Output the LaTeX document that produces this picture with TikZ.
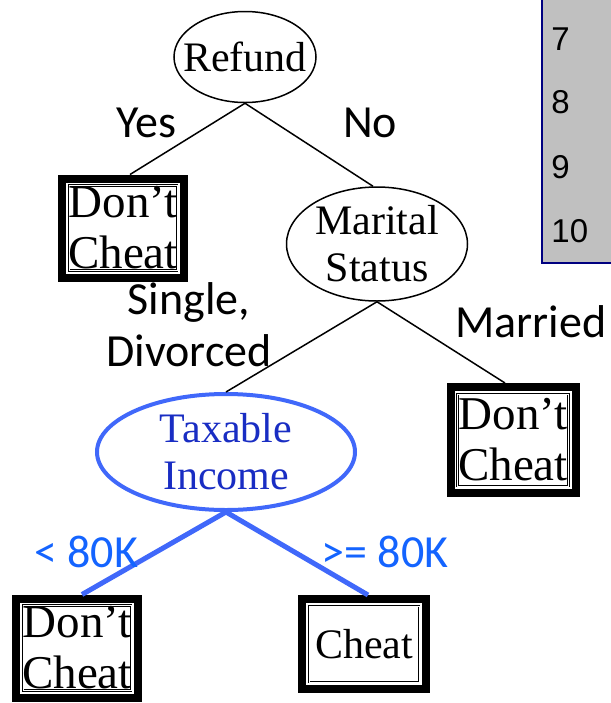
\documentclass[tikz,border=0pt]{standalone}
\usepackage{fontspec}
\setmainfont{Liberation Serif}
\newfontfamily\branchfont{Carlito}
\newfontfamily\rowfont{Liberation Sans}
\usepackage{xcolor}
\usepackage{tikz}
\usetikzlibrary{shapes}
\definecolor{splitblue}{RGB}{64,104,250}
\definecolor{splittext}{RGB}{25,45,195}
\definecolor{branchblue}{RGB}{20,100,255}
\definecolor{rownavy}{RGB}{0,0,128}
\definecolor{rowgrey}{RGB}{192,192,192}
\tikzset{
  TestNode/.style={
    ellipse, draw=black, line width=0.75pt,
    inner xsep=-20pt, inner ysep=-20pt,
    align=center, font=\fontsize{21}{23.5}\selectfont,
  },
  LeafNode/.style={
    rectangle, draw=black, line width=4pt, inner sep=0pt,
    align=center, font=\fontsize{23.5}{25.5}\selectfont,
    path picture={
      \draw[line width=0.45pt, double, double distance=0.5pt]
        ([shift={(3.5pt,-3.5pt)}]path picture bounding box.north west)
        rectangle ([shift={(-3.5pt,3.5pt)}]path picture bounding box.south east);
    },
  },
  Branch/.style={font=\branchfont\fontsize{23}{26}\selectfont, inner sep=0pt},
  Edge/.style={line width=0.75pt},
  SplitEdge/.style={line width=2.5pt, draw=splitblue},
}

\begin{document}
\begin{tikzpicture}[x=0.5pt, y=-0.5pt]
\useasboundingbox (0,0) rectangle (611,703);
\fill[rowgrey] (543,0) rectangle (611,263);
\draw[rownavy, line width=1.1pt] (542,0) -- (542,263) -- (611,263);
\foreach \n/\y in {7/50, 8/113, 9/178, 10/242}
  \node[font=\rowfont\fontsize{16.5}{18}\selectfont, anchor=base west, inner sep=0pt] (row\n) at (551,\y) {\n};

\node[TestNode, minimum width=71pt, minimum height=45.5pt] (Refund) at (245,57) {Refund};
\node[LeafNode, minimum width=61pt, minimum height=49.5pt] (RefundYes) at (123,228) {Don’t\\Cheat};
\node[TestNode, minimum width=90.5pt, minimum height=57pt] (Marital) at (377,244) {Marital\\Status};
\node[LeafNode, minimum width=62.5pt, minimum height=53pt] (MarMarried) at (513,440) {Don’t\\Cheat};
\node[TestNode, draw=splitblue, line width=2pt, text=splittext, minimum width=129pt, minimum height=58pt] (Income) at (226,452) {Taxable\\Income};
\node[LeafNode, minimum width=61pt, minimum height=49.5pt] (IncLow) at (77,648) {Don’t\\Cheat};
\node[LeafNode, font=\fontsize{21}{23.5}\selectfont, minimum width=62pt, minimum height=45pt] (IncHigh) at (364,644) {Cheat};

\draw[Edge] (Refund.south) -- ([xshift=3.5pt]RefundYes.north);
\draw[Edge] (Refund.south) -- ([xshift=-2pt]Marital.north);
\draw[Edge] (Marital.south) -- (Income.north);
\draw[Edge] (Marital.south) -- ([xshift=-4pt]MarMarried.north);
\draw[SplitEdge] (Income.south) -- ([xshift=2.5pt]IncLow.north);
\draw[SplitEdge] (Income.south) -- ([xshift=2pt]IncHigh.north);

\node[Branch, anchor=base] (yesLbl) at (146,137) {Yes};
\node[Branch, anchor=base] (noLbl) at (370,137) {No};
\node[Branch, align=center] (singleLbl) at (189,325) {Single,\\Divorced};
\node[Branch, anchor=base] (marriedLbl) at (531,337) {Married};
\node[Branch, anchor=base, text=branchblue] (lowLbl) at (86,567) {< 80K};
\node[Branch, anchor=base, text=branchblue] (highLbl) at (385,567) {>= 80K};
\end{tikzpicture}
\end{document}
